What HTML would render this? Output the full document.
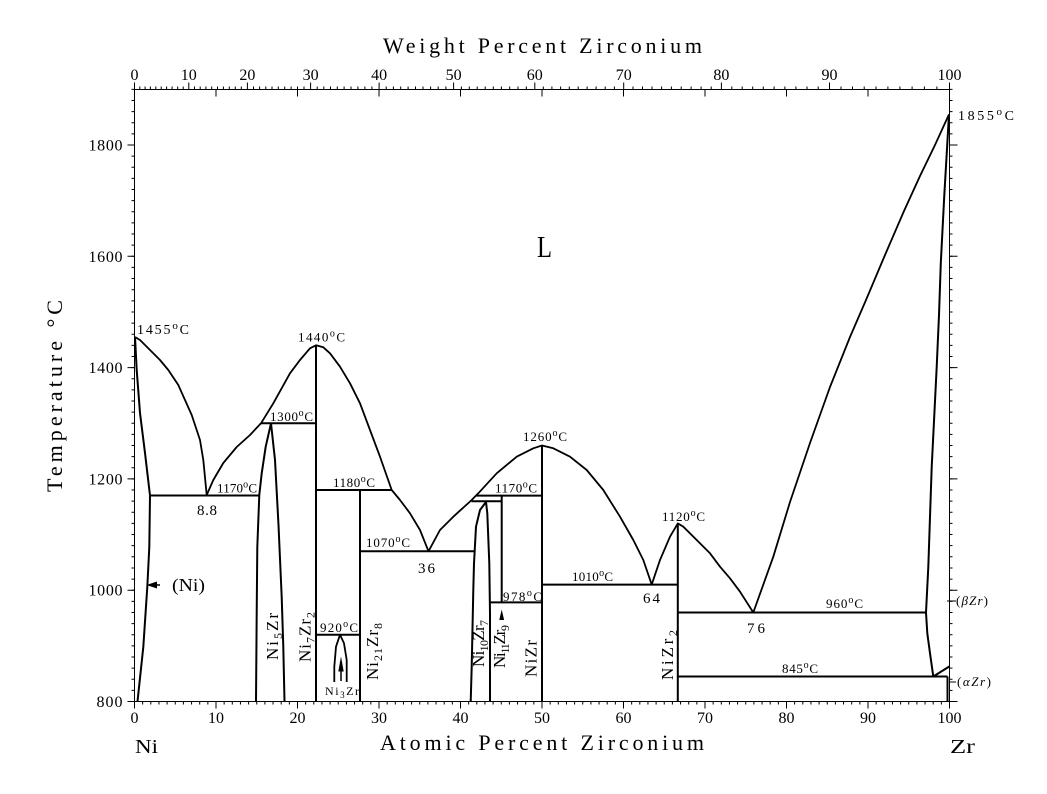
<!DOCTYPE html>
<html><head><meta charset="utf-8"><style>html,body{margin:0;padding:0;background:#fff}svg{display:block}</style></head>
<body>
<svg width="1047" height="794" viewBox="0 0 1047 794" xmlns="http://www.w3.org/2000/svg" font-family="'Liberation Serif', serif" fill="#000">
<rect x="0" y="0" width="1047" height="794" fill="#fff"/>
<rect x="134.5" y="89.5" width="815" height="612" fill="none" stroke="#000" stroke-width="1"/>
<g stroke="#000" fill="none">
  <line x1="133" y1="88.85" x2="133" y2="702.5" stroke-width="3" stroke-dasharray="1 10.13"/>
  <line x1="951" y1="88.85" x2="951" y2="702.5" stroke-width="3" stroke-dasharray="1 10.13"/>
  <line x1="134" y1="703" x2="951" y2="703" stroke-width="3" stroke-dasharray="1 7.15"/>
  <g stroke-width="1">
    <path d="M127.5,701.5H134.5M127.5,590.2H134.5M127.5,478.9H134.5M127.5,367.6H134.5M127.5,256.3H134.5M127.5,145H134.5"/>
    <path d="M949.5,701.5H957.5M949.5,590.2H957.5M949.5,478.9H957.5M949.5,367.6H957.5M949.5,256.3H957.5M949.5,145H957.5"/>
    <path d="M134.5,701.5V708.5M216,701.5V708.5M297.5,701.5V708.5M379,701.5V708.5M460.5,701.5V708.5M542,701.5V708.5M623.5,701.5V708.5M705,701.5V708.5M786.5,701.5V708.5M868,701.5V708.5M949.5,701.5V708.5"/>
    <path d="M216,89.5V96.5M297.5,89.5V96.5M379,89.5V96.5M460.5,89.5V96.5M542,89.5V96.5M623.5,89.5V96.5M705,89.5V96.5M786.5,89.5V96.5M868,89.5V96.5"/>
    <path d="M134.5,89.5V82.5M188.8,89.5V82.5M247.4,89.5V82.5M310.6,89.5V82.5M379.1,89.5V82.5M453.6,89.5V82.5M534.8,89.5V82.5M623.7,89.5V82.5M721.4,89.5V82.5M829.5,89.5V82.5M949.5,89.5V82.5"/>
    <path d="M139.8,89.5v-3M145.1,89.5v-3M150.4,89.5v-3M155.8,89.5v-3M161.2,89.5v-3M166.6,89.5v-3M172.1,89.5v-3M177.7,89.5v-3M183.2,89.5v-3
M194.5,89.5v-3M200.2,89.5v-3M205.9,89.5v-3M211.7,89.5v-3M217.5,89.5v-3M223.4,89.5v-3M229.3,89.5v-3M235.3,89.5v-3M241.3,89.5v-3
M253.5,89.5v-3M259.6,89.5v-3M265.8,89.5v-3M272,89.5v-3M278.3,89.5v-3M284.7,89.5v-3M291.1,89.5v-3M297.5,89.5v-3M304,89.5v-3
M317.2,89.5v-3M323.8,89.5v-3M330.5,89.5v-3M337.3,89.5v-3M344.1,89.5v-3M351,89.5v-3M357.9,89.5v-3M364.9,89.5v-3M371.9,89.5v-3
M386.2,89.5v-3M393.4,89.5v-3M400.7,89.5v-3M408.1,89.5v-3M415.5,89.5v-3M423,89.5v-3M430.6,89.5v-3M438.2,89.5v-3M445.9,89.5v-3
M461.4,89.5v-3M469.3,89.5v-3M477.2,89.5v-3M485.2,89.5v-3M493.3,89.5v-3M501.4,89.5v-3M509.7,89.5v-3M518,89.5v-3M526.3,89.5v-3
M543.3,89.5v-3M551.9,89.5v-3M560.6,89.5v-3M569.3,89.5v-3M578.2,89.5v-3M587.1,89.5v-3M596.1,89.5v-3M605.2,89.5v-3M614.4,89.5v-3
M633,89.5v-3M642.5,89.5v-3M652,89.5v-3M661.6,89.5v-3M671.4,89.5v-3M681.2,89.5v-3M691.1,89.5v-3M701.1,89.5v-3M711.2,89.5v-3
M731.8,89.5v-3M742.2,89.5v-3M752.7,89.5v-3M763.3,89.5v-3M774.1,89.5v-3M784.9,89.5v-3M795.9,89.5v-3M807,89.5v-3M818.2,89.5v-3
M841,89.5v-3M852.5,89.5v-3M864.2,89.5v-3M876,89.5v-3M887.9,89.5v-3M899.9,89.5v-3M912.1,89.5v-3M924.4,89.5v-3M936.9,89.5v-3"/>
  </g>
</g>

<g stroke="#000" fill="none" stroke-width="2" stroke-linejoin="round" stroke-linecap="butt">
  <path stroke-width="1.8" d="M135,337 L140,340 L150,350 L160,360 L168.3,370 L178.3,385 L185,400 L191.7,415 L196.7,430 L200,440 L203.3,460 L206.7,495"/>
  <path d="M135,337 L136.7,370 L140,413 L145,453 L150,495.5 L149.3,547 L147.3,587 L143.3,647 L137.5,701.5"/>
  <path d="M150,495.5 H259.3"/>
  <path stroke-width="1.8" d="M206.7,495 L213.3,480 L223.3,463 L236.7,447 L250,435 L261,423.3 L273.3,403.3 L290,373.3 L300,360 L310,348.3 L316,345.3 L323.3,347.3 L330,353.3 L340,366.7 L350,383.3 L360,403.3 L370,430 L380,456.7 L391.7,490 L400,500 L410,513.3 L420,530 L428.5,551.3"/>
  <path d="M261,423.3 H316"/>
  <path d="M271,423.3 L265.7,446.7 L261.7,473.3 L259.3,495 L257.3,547 L256.7,613 L256,701.5"/>
  <path d="M271,423.3 L275,460 L278.5,525 L281.7,597 L283.3,647 L284.5,701.5"/>
  <path d="M316,345.3 V701.5"/>
  <path d="M316,490 H391.7"/>
  <path d="M360,490 V701.5"/>
  <path d="M360,551.3 H474.5"/>
  <path d="M316,634.7 H360"/>
  <path stroke-width="1.8" d="M334.3,682 L334.3,666.7 L336,646.7 L340,634.7 L344,643.3 L346.7,660 L346.7,682"/>
  <path stroke-width="1.8" d="M428.5,551.3 L440,530 L453.3,516.7 L471.7,500 L478.3,493.3 L496.7,473.3 L516.7,456.7 L533.3,448.3 L542,445.5 L553.3,448.3 L570,456.7 L586.7,470 L603.3,490 L620,516.7 L633.3,540 L643.3,560 L651.7,584.6 L660,560 L670,536.7 L677.8,523.4 L683.3,526.7 L696.7,540 L710,553.3 L720,566.7 L730,578.3 L740,591.7 L753.3,612.5"/>
  <path d="M476.5,495.6 H542"/>
  <path d="M471.5,501.2 H501.7"/>
  <path d="M501.7,495.6 V602.4"/>
  <path d="M490,602.4 H542"/>
  <path d="M486,502 L480,510 L476,526.7 L474,563.3 L473.3,590 L471.7,666.7 L470.7,701.5"/>
  <path d="M486,502 L487.3,513.3 L489.3,563.3 L490,613 L490,701.5"/>
  <path d="M542,445.5 V701.5"/>
  <path d="M542,584.6 H677.8"/>
  <path d="M677.8,523.4 V701.5"/>
  <path d="M677.8,612.5 H926"/>
  <path stroke-width="1.8" d="M753.3,612.5 L773.3,556.7 L790,502 L810,443 L830,387 L850,337 L866,300 L885,255 L904,211 L920,176 L935,145 L949,114.4"/>
  <path d="M949,114.4 L944.2,197 L940.8,263 L939,315 L936.7,367 L931.7,467 L928.3,567 L926,612.5 L927.3,633.3 L930,653.3 L933.3,676.5"/>
  <path d="M677.8,676.5 H947.5"/>
  <path d="M933.3,676.5 L949.5,666.4"/>
  <path d="M947.5,676.5 V701.5"/>
</g>

<g stroke="#000" stroke-width="1.5" fill="#000">
  <path d="M149,585 H160" fill="none"/>
  <polygon points="146.5,585 157,581.5 157,588.5" stroke="none"/>
  <path d="M341,681 V665" fill="none"/>
  <polygon points="341,656.5 338.3,671.5 343.7,671.5" stroke="none"/>
  <polygon points="501.7,609.5 499.3,620 504.1,620" stroke="none"/>
  <path d="M947,601 H956" fill="none" stroke-width="1"/>
  <path d="M950,682 H956" fill="none" stroke-width="1"/>
</g>

<text x="383" y="53" font-size="22" textLength="319" lengthAdjust="spacing">Weight Percent Zirconium</text>
<text x="380" y="750" font-size="22" textLength="324" lengthAdjust="spacing">Atomic Percent Zirconium</text>
<text transform="translate(62,492) rotate(-90)" font-size="22" textLength="192" lengthAdjust="spacing">Temperature °C</text>

<g font-size="16" text-anchor="middle">
  <text x="134.5" y="80">0</text>
  <text x="188.8" y="80">10</text>
  <text x="247.4" y="80">20</text>
  <text x="310.6" y="80">30</text>
  <text x="379.1" y="80">40</text>
  <text x="453.6" y="80">50</text>
  <text x="534.8" y="80">60</text>
  <text x="623.7" y="80">70</text>
  <text x="721.4" y="80">80</text>
  <text x="829.5" y="80">90</text>
  <text x="949.5" y="80">100</text>
</g>
<g font-size="16" text-anchor="middle">
  <text x="134.5" y="723">0</text>
  <text x="216" y="723">10</text>
  <text x="297.5" y="723">20</text>
  <text x="379" y="723">30</text>
  <text x="460.5" y="723">40</text>
  <text x="542" y="723">50</text>
  <text x="623.5" y="723">60</text>
  <text x="705" y="723">70</text>
  <text x="786.5" y="723">80</text>
  <text x="868" y="723">90</text>
  <text x="949.5" y="723">100</text>
</g>
<g font-size="16" text-anchor="end">
  <text x="122.5" y="707" textLength="26" lengthAdjust="spacing">800</text>
  <text x="122.5" y="595.7" textLength="34" lengthAdjust="spacing">1000</text>
  <text x="122.5" y="484.4" textLength="34" lengthAdjust="spacing">1200</text>
  <text x="122.5" y="373" textLength="34" lengthAdjust="spacing">1400</text>
  <text x="122.5" y="261.8" textLength="34" lengthAdjust="spacing">1600</text>
  <text x="122.5" y="150.5" textLength="34" lengthAdjust="spacing">1800</text>
</g>

<text x="135" y="753" font-size="20" textLength="23" lengthAdjust="spacingAndGlyphs">Ni</text>
<text x="950" y="753" font-size="20" textLength="25" lengthAdjust="spacingAndGlyphs">Zr</text>
<text x="537" y="257" font-size="31" textLength="15" lengthAdjust="spacingAndGlyphs">L</text>
<text x="172" y="591" font-size="18" textLength="33" lengthAdjust="spacingAndGlyphs">(Ni)</text>

<g font-size="13">
  <text x="137" y="334" font-size="14" textLength="52">1455<tspan font-size="11" dy="-5">o</tspan><tspan dy="5">C</tspan></text>
  <text x="958" y="120" font-size="14" textLength="56">1855<tspan font-size="11" dy="-5">o</tspan><tspan dy="5">C</tspan></text>
  <text x="298" y="341.5" textLength="47">1440<tspan font-size="10" dy="-5">o</tspan><tspan dy="5">C</tspan></text>
  <text x="270" y="421" textLength="43">1300<tspan font-size="10" dy="-5">o</tspan><tspan dy="5">C</tspan></text>
  <text x="217" y="492.5" textLength="40">1170<tspan font-size="10" dy="-5">o</tspan><tspan dy="5">C</tspan></text>
  <text x="333" y="487" textLength="42">1180<tspan font-size="10" dy="-5">o</tspan><tspan dy="5">C</tspan></text>
  <text x="366" y="547" textLength="44">1070<tspan font-size="10" dy="-5">o</tspan><tspan dy="5">C</tspan></text>
  <text x="523" y="441" textLength="44">1260<tspan font-size="10" dy="-5">o</tspan><tspan dy="5">C</tspan></text>
  <text x="495" y="492.5" textLength="42">1170<tspan font-size="10" dy="-5">o</tspan><tspan dy="5">C</tspan></text>
  <text x="503" y="601" textLength="39">978<tspan font-size="10" dy="-5">o</tspan><tspan dy="5">C</tspan></text>
  <text x="572" y="581" textLength="41">1010<tspan font-size="10" dy="-5">o</tspan><tspan dy="5">C</tspan></text>
  <text x="662" y="521" textLength="43">1120<tspan font-size="10" dy="-5">o</tspan><tspan dy="5">C</tspan></text>
  <text x="826" y="608" textLength="37">960<tspan font-size="10" dy="-5">o</tspan><tspan dy="5">C</tspan></text>
  <text x="782" y="673" textLength="36">845<tspan font-size="10" dy="-5">o</tspan><tspan dy="5">C</tspan></text>
  <text x="320" y="632" textLength="38">920<tspan font-size="10" dy="-5">o</tspan><tspan dy="5">C</tspan></text>
</g>
<g font-size="15">
  <text x="197" y="515" textLength="20">8.8</text>
  <text x="418" y="573" textLength="17">36</text>
  <text x="643" y="603" textLength="17">64</text>
  <text x="747" y="633" textLength="18">76</text>
</g>

<text x="956" y="605" font-size="13" textLength="32">(<tspan font-style="italic">βZr</tspan>)</text>
<text x="957" y="686" font-size="13" textLength="34">(<tspan font-style="italic">αZr</tspan>)</text>

<text x="325" y="695" font-size="12" textLength="34">Ni<tspan font-size="9" dy="3">3</tspan><tspan dy="-3">Zr</tspan></text>

<g font-size="17">
  <text transform="translate(278,660) rotate(-90)" textLength="47">Ni<tspan font-size="12" dy="4">5</tspan><tspan dy="-4">Zr</tspan></text>
  <text transform="translate(310.5,662) rotate(-90)" textLength="50">Ni<tspan font-size="12" dy="4">7</tspan><tspan dy="-4">Zr</tspan><tspan font-size="12" dy="4">2</tspan></text>
  <text transform="translate(378,680) rotate(-90)" textLength="57">Ni<tspan font-size="12" dy="4">21</tspan><tspan dy="-4">Zr</tspan><tspan font-size="12" dy="4">8</tspan></text>
  <text transform="translate(484,667) rotate(-90)" textLength="47">Ni<tspan font-size="12" dy="4">10</tspan><tspan dy="-4">Zr</tspan><tspan font-size="12" dy="4">7</tspan></text>
  <text transform="translate(505,668) rotate(-90)" textLength="43">Ni<tspan font-size="12" dy="4">11</tspan><tspan dy="-4">Zr</tspan><tspan font-size="12" dy="4">9</tspan></text>
  <text transform="translate(536.5,677) rotate(-90)" textLength="37">NiZr</text>
  <text transform="translate(673,680) rotate(-90)" textLength="50">NiZr<tspan font-size="12" dy="4">2</tspan></text>
</g>
</svg>
</body></html>
